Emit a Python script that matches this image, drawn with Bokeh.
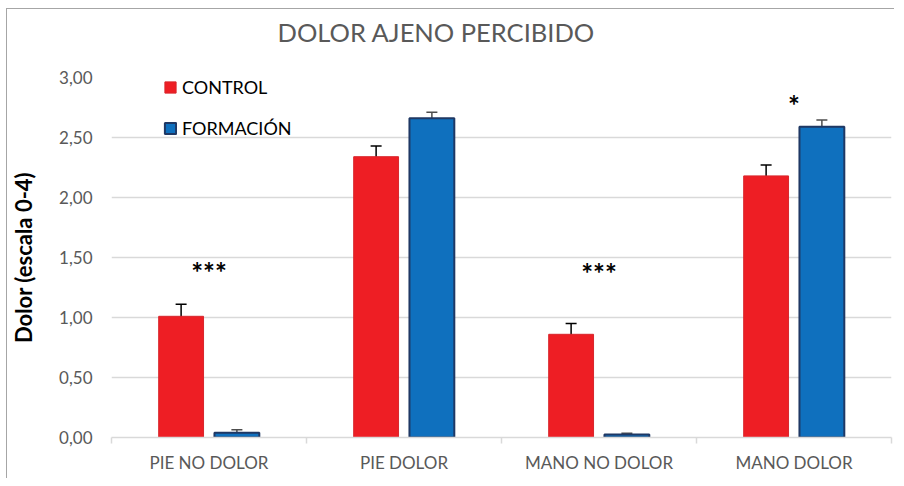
from bokeh.plotting import figure
from bokeh.models import (Range1d, FixedTicker, Whisker, ColumnDataSource, Legend, TeeHead, Title)
from bokeh.core.properties import value
from bokeh.embed import file_html
from bokeh.resources import INLINE

# ---- data ----
title_text = "DOLOR AJENO PERCIBIDO"
categories = ["PIE NO DOLOR", "PIE DOLOR", "MANO NO DOLOR", "MANO DOLOR"]
control = [1.01, 2.34, 0.86, 2.18]
control_err = [0.10, 0.09, 0.09, 0.09]
formacion = [0.04, 2.66, 0.025, 2.59]
formacion_err = [0.025, 0.05, 0.01, 0.055]
sig_cats = ["PIE NO DOLOR", "MANO NO DOLOR", "MANO DOLOR"]
sig_text = ["***", "***", "*"]
sig_y = [1.38, 1.37, 2.77]
y_ticks = [0, 0.5, 1.0, 1.5, 2.0, 2.5, 3.0]
y_tick_labels = ["0,00", "0,50", "1,00", "1,50", "2,00", "2,50", "3,00"]

RED = "#EE1E24"
RED_LINE = "#D8262C"
BLUE = "#0F70BE"
BLUE_LINE = "#1F3864"
GRID = "#D9D9D9"
TXT = "#595959"
FONT = "Lato"

OFF = 0.143   # dodge of each series within a category
W = 0.23      # bar width (fraction of a category)

n = len(categories)
centers = [i + 0.5 for i in range(n)]
src = ColumnDataSource(dict(
    xc=[c - OFF for c in centers],
    xf=[c + OFF for c in centers],
    control=control,
    c_lo=[v - e for v, e in zip(control, control_err)],
    c_hi=[v + e for v, e in zip(control, control_err)],
    formacion=formacion,
    f_lo=[v - e for v, e in zip(formacion, formacion_err)],
    f_hi=[v + e for v, e in zip(formacion, formacion_err)],
))
sig_src = ColumnDataSource(dict(x=[categories.index(c) + 0.5 for c in sig_cats],
                                text=sig_text, y=sig_y))

p = figure(x_range=Range1d(0, n), y_range=Range1d(0, 3),
           width=888, height=470, output_backend="svg", toolbar_location=None,
           min_border_left=99, min_border_right=4,
           min_border_top=68, min_border_bottom=42)
p.styles = {"margin-left": "6px", "margin-top": "8px",
            "border-left": "1px solid #A6A6A6", "border-top": "1px solid #A6A6A6"}
p.outline_line_color = None

p.title.text = title_text
p.title.text_font = FONT
p.title.text_font_size = "25.5px"
p.title.text_font_style = "normal"
p.title.text_color = TXT
p.title.align = "left"
p.title.offset = 166
p.title.standoff = 0

# blank spacer between the title and the plot area
spacer = Title(text=" ", text_font_size="10px", standoff=18)
p.add_layout(spacer, "above")

xax = p.xaxis[0]
xax.ticker = FixedTicker(ticks=centers, minor_ticks=list(range(n + 1)))
xax.major_label_overrides = {c: l for c, l in zip(centers, categories)}
xax.axis_line_color = GRID
xax.axis_line_width = 1.5
xax.major_tick_line_color = None
xax.major_tick_out = 0
xax.major_tick_in = 0
xax.minor_tick_line_color = GRID
xax.minor_tick_line_width = 1.5
xax.minor_tick_out = 6
xax.minor_tick_in = 0
xax.major_label_standoff = 8
xax.major_label_text_font = FONT
xax.major_label_text_font_size = "17px"
xax.major_label_text_color = TXT

yax = p.yaxis[0]
yax.ticker = FixedTicker(ticks=y_ticks)
yax.major_label_overrides = {t: l for t, l in zip(y_ticks, y_tick_labels)}
yax.axis_line_color = None
yax.major_tick_line_color = None
yax.minor_tick_line_color = None
yax.major_tick_out = 0
yax.major_label_standoff = 19
yax.major_label_text_font = FONT
yax.major_label_text_font_size = "17px"
yax.major_label_text_color = TXT
yax.axis_label = "Dolor (escala 0-4)"
yax.axis_label_text_font = FONT
yax.axis_label_text_font_style = "bold"
yax.axis_label_text_font_size = "22px"
yax.axis_label_text_color = "black"
yax.axis_label_standoff = 19

p.xgrid.visible = False
p.ygrid.grid_line_color = GRID
p.ygrid.grid_line_width = 1.5

r1 = p.vbar(x="xc", top="control", width=W, source=src,
            fill_color=RED, line_color=RED_LINE, line_width=1)
r2 = p.vbar(x="xf", top="formacion", width=W, source=src,
            fill_color=BLUE, line_color=BLUE_LINE, line_width=2)

w1 = Whisker(source=src, base="xc", upper="c_hi", lower="c_lo",
             line_color="black", line_width=1.5,
             upper_head=TeeHead(size=11, line_color="black", line_width=1.5),
             lower_head=TeeHead(size=11, line_color="black", line_width=1.5))
w2 = Whisker(source=src, base="xf", upper="f_hi", lower="f_lo",
             line_color="#4D4D4D", line_width=1.5,
             upper_head=TeeHead(size=11, line_color="#4D4D4D", line_width=1.5),
             lower_head=TeeHead(size=11, line_color="#4D4D4D", line_width=1.5))
p.add_layout(w1)
p.add_layout(w2)

p.text(x="x", y="y", text="text", source=sig_src, text_font=value(FONT),
       text_font_style="bold", text_font_size="28px", text_align="center",
       text_baseline="middle", text_color="black")

legend = Legend(items=[("CONTROL", [r1]), ("FORMACIÓN", [r2])], location=(52, 298))
legend.border_line_color = None
legend.background_fill_alpha = 0
legend.padding = 0
legend.margin = 0
legend.spacing = 19
legend.glyph_width = 14
legend.glyph_height = 14
legend.label_height = 20
legend.label_standoff = 5
legend.label_text_font = FONT
legend.label_text_font_size = "18px"
legend.label_text_color = "black"
p.add_layout(legend)

open("out.html", "w").write(file_html(p, INLINE))
